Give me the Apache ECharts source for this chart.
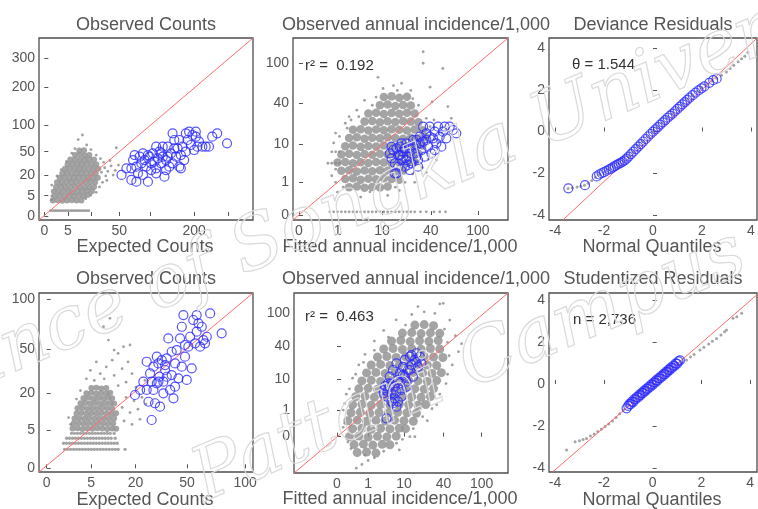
<!DOCTYPE html>
<html><head><meta charset="utf-8">
<script src="https://cdn.jsdelivr.net/npm/echarts@6/dist/echarts.min.js"></script>
<style>html,body{margin:0;padding:0;background:#fff}#c{width:758px;height:509px}</style>
</head><body><div id="c"></div><script>
// ---------- texts ----------
const titles = ['Observed Counts','Observed annual incidence/1,000','Deviance Residuals','Observed Counts','Observed annual incidence/1,000','Studentized Residuals'];
const xNames = ['Expected Counts','Fitted annual incidence/1,000','Normal Quantiles','Expected Counts','Fitted annual incidence/1,000','Normal Quantiles'];
const notes = ['','r² =  0.192','θ = 1.544','','r² =  0.463','n = 2,736'];

// ---------- tick labels (original scale) ----------
const p1XTicks = [0,5,20,50,100,200,300];
const p1XLabels = [0,5,50,200];
const p1YTicks = [0,5,20,50,100,200,300];
const p4Ticks = [0,5,20,50,100];
const incTicks = [0,1,10,40,100];
const qTicks = [-4,-2,0,2,4];

// ---------- panel 1: sqrt(count) scale ----------
const p1GrayDense = [
[0.8,1.7],[1.25,1.72],[1.7,1.68],[2.15,1.7],[2.6,1.73],[3.05,1.69],[3.5,1.71],
[1.0,2.2],[1.45,2.24],[1.9,2.18],[2.35,2.22],[2.8,2.2],[3.25,2.25],[3.7,2.19],[4.1,2.3],
[0.9,2.7],[1.35,2.68],[1.8,2.73],[2.25,2.7],[2.7,2.66],[3.15,2.72],[3.6,2.7],[4.05,2.75],[4.5,2.72],
[1.1,3.2],[1.55,3.23],[2.0,3.18],[2.45,3.2],[2.9,3.25],[3.35,3.2],[3.8,3.17],[4.25,3.22],[4.7,3.2],
[1.2,3.7],[1.65,3.68],[2.1,3.72],[2.55,3.7],[3.0,3.74],[3.45,3.69],[3.9,3.7],[4.35,3.73],[4.8,3.7],
[1.45,4.2],[1.9,4.22],[2.35,4.18],[2.8,4.2],[3.25,4.24],[3.7,4.2],[4.15,4.17],[4.6,4.21],[5.05,4.2],
[1.7,4.7],[2.15,4.72],[2.6,4.68],[3.05,4.7],[3.5,4.73],[3.95,4.7],[4.4,4.67],[4.85,4.7],
[1.95,5.2],[2.4,5.22],[2.85,5.18],[3.3,5.2],[3.75,5.23],[4.2,5.2],[4.65,5.18],[5.1,5.2],
[2.2,5.7],[2.65,5.72],[3.1,5.68],[3.55,5.7],[4.0,5.73],[4.45,5.7],[4.9,5.68],
[2.45,6.2],[2.9,6.22],[3.35,6.18],[3.8,6.2],[4.25,6.23],[4.7,6.2],
[2.9,6.7],[3.35,6.72],[3.8,6.68],[4.25,6.7],
[3.3,7.2],[3.75,7.22]];
const p1GraySparse = [
[0.6,0.58],[0.8,0.58],[1.0,0.58],[1.2,0.58],[1.4,0.58],[1.6,0.58],[1.8,0.58],[2.0,0.58],[2.2,0.58],[2.4,0.58],
[2.6,0.58],[2.8,0.58],[3.0,0.58],[3.2,0.58],[3.4,0.58],[3.6,0.58],[3.8,0.58],[4.0,0.58],[4.2,0.58],
[5.4,4.8],[5.7,5.3],[6.0,4.9],[6.3,5.5],[6.7,5.0],[5.6,5.9],[5.3,6.3],[4.9,6.7],[4.4,7.3],[3.6,8.9],[3.2,8.4],
[6.8,7.5],[5.8,4.4],[6.2,6.1],[2.6,6.9],[2.1,6.0],[1.6,5.1],[1.2,4.4],[0.7,3.4],[5.2,3.2],[5.5,3.7],[4.9,2.6],
[4.4,2.3],[3.9,1.9],[5.9,3.9],[6.5,4.5],[7.0,5.6],[2.9,7.4],[4.0,7.8],[0.7,2.2],[0.7,1.8]];
const p1Blue = [
[7.29,4.51],[7.75,5.24],[8.22,3.96],[8.38,6.15],[8.53,6.70],[8.69,5.42],[8.84,4.69],[9.00,6.52],[9.16,5.79],[9.31,6.89],
[9.47,6.15],[9.62,5.42],[9.78,3.77],[9.93,6.52],[10.09,5.79],[10.25,6.89],[10.40,5.97],[10.56,5.24],[10.71,6.34],[10.87,7.07],
[11.02,5.79],[11.18,6.52],[11.34,4.32],[11.49,6.15],[11.65,7.62],[11.80,5.42],[11.96,6.89],[12.11,5.79],[12.27,8.35],[12.43,6.52],
[12.58,7.44],[12.74,5.42],[12.89,6.70],[13.05,7.62],[13.20,6.15],[13.36,7.07],[13.52,8.35],[13.67,9.27],[13.83,7.80],[13.98,8.90],
[14.14,7.25],[14.30,8.72],[14.45,7.62],[14.61,8.17],[14.92,7.62],[15.23,7.62],[15.54,7.62],[15.85,8.72],[16.32,9.08],[17.25,7.99],
[12.89,5.24],[12.11,9.08],[11.18,7.62],[10.56,7.62],[10.09,5.05],[9.31,4.51],[8.69,3.77],[8.22,5.24],[11.49,5.05],[12.27,7.44],
[10.56,4.69],[11.02,6.89],[9.78,6.70],[11.65,6.52],[12.74,8.35],[13.36,9.08],[14.30,9.27]];
const p1Ref = [[-0.5,-0.44],[19.7,19.56]];

// ---------- panel 2: cube-root incidence scale ----------
const p2GrayDense = [
[1.3,0.85],[1.5,0.87],[1.7,0.83],[1.9,0.86],[2.1,0.84],[2.3,0.87],
[1.2,1.1],[1.4,1.12],[1.6,1.08],[1.8,1.11],[2.0,1.09],[2.2,1.12],[2.4,1.1],[2.6,1.08],
[1.1,1.35],[1.3,1.37],[1.5,1.33],[1.7,1.36],[1.9,1.34],[2.1,1.37],[2.3,1.35],[2.5,1.33],[2.7,1.36],
[1.0,1.6],[1.2,1.62],[1.4,1.58],[1.6,1.61],[1.8,1.59],[2.0,1.62],[2.2,1.6],[2.4,1.58],[2.6,1.61],[2.8,1.59],[3.0,1.62],
[1.1,1.85],[1.3,1.87],[1.5,1.83],[1.7,1.86],[1.9,1.84],[2.1,1.87],[2.3,1.85],[2.5,1.83],[2.7,1.86],[2.9,1.84],[3.1,1.87],
[1.2,2.1],[1.4,2.12],[1.6,2.08],[1.8,2.11],[2.0,2.09],[2.2,2.12],[2.4,2.1],[2.6,2.08],[2.8,2.11],[3.0,2.09],[3.2,2.12],
[1.3,2.35],[1.5,2.37],[1.7,2.33],[1.9,2.36],[2.1,2.34],[2.3,2.37],[2.5,2.35],[2.7,2.33],[2.9,2.36],[3.1,2.34],[3.3,2.37],
[1.4,2.6],[1.6,2.62],[1.8,2.58],[2.0,2.61],[2.2,2.59],[2.4,2.62],[2.6,2.6],[2.8,2.58],[3.0,2.61],[3.2,2.59],
[1.7,2.85],[1.9,2.87],[2.1,2.83],[2.3,2.86],[2.5,2.84],[2.7,2.87],[2.9,2.85],[3.1,2.83],
[1.8,3.1],[2.0,3.12],[2.2,3.08],[2.4,3.11],[2.6,3.09],[2.8,3.12],[3.0,3.1],
[2.1,3.35],[2.3,3.37],[2.5,3.33],[2.7,3.36],[2.9,3.34],
[2.2,3.6],[2.4,3.62],[2.6,3.58],[2.8,3.61]];
const p2GraySparse = [
[0.8,0.1],[0.9,0.1],[1.0,0.1],[1.1,0.1],[1.2,0.1],[1.3,0.1],[1.4,0.1],[1.5,0.1],[1.6,0.1],[1.7,0.1],[1.8,0.1],[1.9,0.1],
[2.0,0.1],[2.1,0.1],[2.2,0.1],[2.3,0.1],[2.4,0.1],[2.5,0.1],[2.6,0.1],[2.7,0.1],[2.8,0.1],[2.9,0.1],[3.0,0.1],[3.15,0.1],
[3.3,0.1],[3.5,0.1],[3.65,0.1],[3.8,0.1],
[0.75,1.58],[0.85,1.58],[0.95,1.58],[1.05,1.58],[0.85,1.93],[0.95,1.93],[1.05,1.93],
[3.22,4.98],[3.73,4.47],[3.22,4.63],[2.66,4.02],[2.18,3.86],[3.86,3.31],[3.56,1.68],[1.84,0.71],[2.9,3.8],
[3.4,3.9],[1.5,3.2],[1.2,2.8],[0.9,2.2],[0.85,1.2],[1.0,0.7],[2.6,0.75],[3.0,1.0],[3.5,2.9],[3.7,2.5],
[2.05,4.2],[1.7,3.5],[2.45,3.95],[3.45,3.45],[3.95,2.95],[1.6,0.55],[2.3,0.6],[0.95,2.5],[1.3,3.0],[3.3,1.3],[3.6,2.2],
[0.95,1.0],[1.05,2.4],[1.25,2.65],[1.55,3.0],[1.9,3.35],[2.0,3.6],[3.1,3.35],[3.3,2.95],[3.4,2.7],[3.35,1.7],
[3.2,1.45],[2.95,1.25],[2.75,1.0],[2.5,0.85],[1.15,0.85],[0.95,1.4],[3.5,2.3],[2.95,3.55],[2.55,3.8],[1.35,2.9]];
const p2Blue = [
[2.357,1.882],[2.400,1.730],[2.443,1.984],[2.486,1.577],[2.529,1.272],[2.572,1.831],[2.615,2.085],[2.658,1.679],[2.701,1.933],[2.744,1.476],
[2.787,2.187],[2.830,1.781],[2.873,2.035],[2.916,1.577],[2.959,2.289],[3.003,1.882],[3.046,2.136],[3.089,1.679],[3.132,2.390],[3.175,1.984],
[3.218,2.238],[3.261,1.781],[3.304,2.492],[3.347,2.085],[3.390,2.695],[3.433,1.882],[3.476,2.340],[3.519,2.543],[3.562,2.187],[3.605,2.695],
[3.648,2.390],[3.692,2.085],[3.735,2.543],[3.821,2.340],[3.907,2.695],[3.993,2.594],[4.079,2.492],[2.486,1.272],[2.572,1.476],[2.701,1.781],
[2.787,1.679],[2.873,1.882],[2.959,2.085],[3.046,1.781],[3.132,2.187],[3.218,2.695],[3.304,2.289],[2.615,1.831],[2.744,2.035],[2.830,1.527],
[2.658,2.187],[2.529,2.035],[2.400,2.085],[3.046,2.289],[3.390,2.390],[3.519,1.984],[3.778,2.695],[3.089,1.476],[2.873,1.374]];
const p2Ref = [[-0.155,-0.15],[5.42,5.40]];

// ---------- panel 3: deviance residual QQ ----------
const p3Gray = [
[-3.47,-2.73],[-3.3,-2.7],[-3.1,-2.66],[-2.95,-2.62],[-2.8,-2.57],[-2.65,-2.48],[-2.5,-2.35],[-2.35,-2.2],[-2.2,-2.06],[-2.0,-1.94],
[-1.8,-1.82],[-1.6,-1.69],[-1.4,-1.55],[-1.2,-1.41],[-1.0,-1.2],[-0.8,-0.96],[-0.6,-0.7],[-0.4,-0.48],[-0.2,-0.24],[0,-0.02],
[0.2,0.2],[0.4,0.44],[0.6,0.66],[0.8,0.86],[1.0,1.08],[1.2,1.3],[1.4,1.52],[1.6,1.72],[1.8,1.93],[2.0,2.1],
[2.2,2.26],[2.4,2.42],[2.6,2.55],[2.8,2.7],[3.0,2.85],[3.15,3.02],[3.3,3.18],[3.48,3.34],[3.62,3.48],[3.75,3.61],[3.88,3.78]];
const p3Blue = [
[-3.46,-2.72],[-2.78,-2.57],[-2.3,-2.15],[-2.2,-2.06],[-2.1,-2.0],[-2.0,-1.95],[-1.9,-1.88],[-1.8,-1.82],[-1.72,-1.78],[-1.64,-1.72],
[-1.56,-1.66],[-1.48,-1.6],[-1.4,-1.55],[-1.32,-1.5],[-1.24,-1.44],[-1.16,-1.38],[-1.08,-1.3],[-1.0,-1.2],[-0.9,-1.08],[-0.8,-0.96],
[-0.7,-0.84],[-0.6,-0.72],[-0.5,-0.6],[-0.4,-0.48],[-0.3,-0.36],[-0.2,-0.24],[-0.1,-0.12],[0.0,-0.01],[0.1,0.1],[0.2,0.21],
[0.3,0.33],[0.4,0.44],[0.5,0.55],[0.6,0.66],[0.7,0.76],[0.8,0.86],[0.9,0.97],[1.0,1.08],[1.1,1.19],[1.2,1.3],
[1.3,1.41],[1.4,1.52],[1.5,1.62],[1.62,1.74],[1.74,1.86],[1.86,1.97],[1.98,2.07],[2.1,2.16],[2.3,2.33],[2.46,2.46],[2.6,2.53]];
const p3Ref = [[-3.68,-4.24],[4.25,4.47]];

// ---------- panel 4: sqrt(count) scale ----------
const p4GrayRows = [
[0.9,1.12],[1.05,1.12],[1.2,1.12],[1.35,1.12],[1.5,1.12],[1.65,1.12],[1.8,1.12],[1.95,1.12],[2.1,1.12],[2.25,1.12],
[2.4,1.12],[2.55,1.12],[2.7,1.12],[2.85,1.12],[3.0,1.12],[3.15,1.12],[3.3,1.12],[3.45,1.12],[3.6,1.12],[3.95,1.12],
[0.85,1.48],[1.0,1.48],[1.15,1.48],[1.3,1.48],[1.45,1.48],[1.6,1.48],[1.75,1.48],[1.9,1.48],[2.05,1.48],[2.2,1.48],
[2.35,1.48],[2.5,1.48],[2.65,1.48],[2.8,1.48],[2.95,1.48],[3.1,1.48],[3.25,1.48],[3.4,1.48],[3.55,1.48],
[1.0,1.78],[1.15,1.78],[1.3,1.78],[1.45,1.78],[1.6,1.78],[1.75,1.78],[1.9,1.78],[2.05,1.78],[2.2,1.78],[2.35,1.78],
[2.5,1.78],[2.65,1.78],[2.8,1.78],[2.95,1.78],[3.1,1.78],[3.25,1.78],[3.45,1.78],
[1.25,2.07],[1.4,2.07],[1.55,2.07],[1.7,2.07],[1.85,2.07],[2.0,2.07],[2.15,2.07],[2.3,2.07],[2.45,2.07],[2.6,2.07],
[2.75,2.07],[2.9,2.07],[3.05,2.07],[3.2,2.07],[3.4,2.07]];
const p4GrayDense = [
[1.3,2.35],[1.55,2.37],[1.8,2.33],[2.05,2.36],[2.3,2.34],[2.55,2.37],[2.8,2.35],[3.05,2.33],[3.3,2.36],[3.5,2.34],
[1.35,2.65],[1.6,2.67],[1.85,2.63],[2.1,2.66],[2.35,2.64],[2.6,2.67],[2.85,2.65],[3.1,2.63],[3.35,2.66],
[1.4,2.95],[1.65,2.97],[1.9,2.93],[2.15,2.96],[2.4,2.94],[2.65,2.97],[2.9,2.95],[3.15,2.93],[3.4,2.96],
[1.5,3.25],[1.75,3.27],[2.0,3.23],[2.25,3.26],[2.5,3.24],[2.75,3.27],[3.0,3.25],[3.25,3.23],[3.5,3.26],
[1.55,3.55],[1.8,3.57],[2.05,3.53],[2.3,3.56],[2.55,3.54],[2.8,3.57],[3.05,3.55],[3.3,3.53],
[1.7,3.85],[1.95,3.87],[2.2,3.83],[2.45,3.86],[2.7,3.84],[2.95,3.87],[3.2,3.85],[3.4,3.83],
[1.85,4.15],[2.1,4.17],[2.35,4.13],[2.6,4.16],[2.85,4.14],[3.1,4.17],[3.3,4.15],
[2.0,4.45],[2.25,4.47],[2.5,4.43],[2.75,4.46],[3.0,4.44],[3.2,4.47],
[2.25,4.75],[2.5,4.77],[2.75,4.73],[3.0,4.76]];
const p4GraySparse = [
[3.19,8.88],[2.86,8.38],[3.11,7.59],[3.87,7.2],[4.2,7.3],[2.4,5.2],[2.7,5.6],[3.0,6.0],[3.3,6.4],[3.6,6.8],
[2.9,5.3],[3.4,5.5],[3.8,5.9],[4.1,6.3],[3.6,4.9],[4.0,5.1],[4.3,5.6],[4.5,4.8],[4.0,4.2],[4.4,4.0],
[3.8,3.6],[4.2,3.3],[4.6,3.5],[3.9,2.8],[4.3,2.6],[4.7,2.9],[2.2,5.8],[2.5,6.3],[2.0,5.3],[1.7,4.6],
[1.5,4.1],[3.4,7.0],[4.8,4.2],[5.0,3.8],[4.95,5.2],[1.2,2.6],[1.1,3.0]];
const p4Blue = [
[4.45,4.34],[4.71,4.64],[4.87,5.13],[5.04,6.31],[5.13,3.94],[5.21,5.62],[5.29,2.86],[5.38,6.02],[5.46,3.85],[5.55,5.03],
[5.63,6.21],[5.68,5.42],[5.71,3.65],[5.80,6.41],[5.88,5.13],[5.97,5.82],[6.05,6.51],[6.13,7.69],[6.22,4.64],[6.30,5.52],
[6.39,4.14],[6.47,6.21],[6.55,7.00],[6.64,5.33],[6.72,7.69],[6.81,8.38],[6.89,9.07],[6.97,6.61],[7.06,5.23],[7.14,7.20],
[7.23,7.79],[7.31,5.92],[7.39,8.78],[7.48,7.40],[7.56,9.07],[7.65,8.58],[7.73,7.20],[7.82,8.38],[7.90,7.59],[7.98,7.40],
[8.07,7.79],[8.24,9.17],[8.82,7.99],[5.38,4.64],[5.55,6.61],[5.88,4.44],[6.05,5.42],[6.30,6.90],[6.47,4.83],[6.81,6.02],
[6.97,7.30],[7.56,8.09],[5.63,5.13],[5.97,6.11],[5.29,5.13],[5.04,4.64]];
const p4Ref = [[-0.39,-0.22],[10.4,10.38]];

// ---------- panel 5: cube-root incidence scale ----------
const p5GrayDense = [
[0.65,-0.6],[0.95,-0.58],[1.25,-0.62],
[0.55,-0.3],[0.85,-0.28],[1.15,-0.32],[1.45,-0.29],[1.7,-0.31],
[0.4,0.0],[0.7,0.02],[1.0,-0.02],[1.3,0.01],[1.6,-0.01],[1.9,0.02],
[0.5,0.3],[0.8,0.32],[1.1,0.28],[1.4,0.31],[1.7,0.29],[2.0,0.32],[2.2,0.3],
[0.35,0.6],[0.65,0.62],[0.95,0.58],[1.25,0.61],[1.55,0.59],[1.85,0.62],[2.15,0.6],[2.45,0.58],
[0.45,0.9],[0.75,0.92],[1.05,0.88],[1.35,0.91],[1.65,0.89],[1.95,0.92],[2.25,0.9],[2.55,0.88],
[0.5,1.2],[0.8,1.22],[1.1,1.18],[1.4,1.21],[1.7,1.19],[2.0,1.22],[2.3,1.2],[2.6,1.18],[2.85,1.21],
[0.6,1.5],[0.9,1.52],[1.2,1.48],[1.5,1.51],[1.8,1.49],[2.1,1.52],[2.4,1.5],[2.7,1.48],[3.0,1.51],
[0.7,1.8],[1.0,1.82],[1.3,1.78],[1.6,1.81],[1.9,1.79],[2.2,1.82],[2.5,1.8],[2.8,1.78],[3.1,1.81],
[0.8,2.1],[1.1,2.12],[1.4,2.08],[1.7,2.11],[2.0,2.09],[2.3,2.12],[2.6,2.1],[2.9,2.08],[3.2,2.11],
[0.95,2.4],[1.25,2.42],[1.55,2.38],[1.85,2.41],[2.15,2.39],[2.45,2.42],[2.75,2.4],[3.05,2.38],[3.35,2.41],
[1.1,2.7],[1.4,2.72],[1.7,2.68],[2.0,2.71],[2.3,2.69],[2.6,2.72],[2.9,2.7],[3.2,2.68],
[1.3,3.0],[1.6,3.02],[1.9,2.98],[2.2,3.01],[2.5,2.99],[2.8,3.02],[3.1,3.0],[3.4,2.98],
[1.5,3.3],[1.8,3.32],[2.1,3.28],[2.4,3.31],[2.7,3.29],[3.0,3.32],[3.3,3.3],
[1.75,3.6],[2.05,3.62],[2.35,3.58],[2.65,3.61],[2.95,3.59],[3.25,3.62],
[2.1,3.9],[2.4,3.92],[2.7,3.88],[3.0,3.91],[3.3,3.89],
[2.5,4.2],[2.8,4.22],[3.1,4.18]];
const p5GraySparse = [
[3.41,5.02],[3.14,4.64],[3.62,4.39],[3.8,3.8],[3.9,3.2],[3.7,2.7],[3.5,2.0],[3.2,1.2],[2.9,0.6],[2.5,0.0],
[2.0,-0.5],[1.0,-0.9],[0.62,-1.19],[0.8,-1.05],[0.9,-0.7],[0.25,0.5],[0.2,1.0],[0.3,1.6],[0.5,2.2],[0.7,2.7],
[0.9,3.1],[1.2,3.6],[1.5,4.0],[1.9,4.4],[2.4,4.6],[2.8,4.7],[1.91,-0.25],[2.34,0.0],[0.35,-0.2],[4.0,3.5],[3.3,5.0],[2.6,4.9],
[0.45,-0.45],[1.5,-0.55],[2.1,-0.1],[2.45,0.3],[2.75,0.75],[3.05,1.05],[3.3,1.6],[3.55,2.35],[3.6,3.05],[3.55,3.55],
[3.45,4.05],[2.2,4.2],[1.65,3.75],[1.2,3.25],[0.85,2.8],[0.6,2.35],[0.4,1.8],[0.25,1.25],[0.2,0.35],[1.2,-0.8]];
const p5Blue = [
[1.53,1.76],[1.59,1.51],[1.64,2.01],[1.69,2.26],[1.75,1.63],[1.80,2.51],[1.85,1.88],[1.91,2.76],[1.96,2.13],[2.02,2.38],
[2.07,1.76],[2.12,2.63],[2.18,2.89],[2.23,2.07],[2.28,2.51],[2.34,3.01],[2.39,2.70],[2.44,2.26],[2.50,2.89],[2.55,3.14],
[2.60,2.63],[2.66,3.01],[2.71,2.76],[1.80,1.25],[1.91,1.13],[1.85,1.44],[2.23,1.88],[2.07,1.51],[1.75,1.32],[1.59,0.69],
[1.96,1.32],[2.18,2.26],[2.34,2.51],[1.69,1.88],[2.02,2.01],[2.55,2.82],[2.39,3.07],[2.12,2.32],[1.91,1.69],
[1.50,1.63],[1.55,1.90],[1.62,1.69],[1.72,2.00]];
const p5Ref = [[-1.38,-1.37],[5.49,5.41]];

// ---------- panel 6: studentized residual QQ ----------
const p6Gray = [
[-3.53,-3.14],[-3.18,-2.75],[-3.0,-2.7],[-2.85,-2.64],[-2.71,-2.59],[-2.55,-2.48],[-2.4,-2.38],[-2.25,-2.26],[-2.1,-2.14],[-1.95,-2.02],
[-1.8,-1.9],[-1.65,-1.76],[-1.5,-1.6],[-1.35,-1.42],[-1.2,-1.24],[-1.0,-1.02],[-0.8,-0.8],[-0.6,-0.6],[-0.4,-0.39],[-0.2,-0.19],
[0,0],[0.2,0.2],[0.4,0.4],[0.6,0.6],[0.8,0.8],[1.0,0.98],[1.2,1.02],[1.39,1.14],[1.55,1.28],[1.7,1.4],
[1.94,1.62],[2.1,1.75],[2.3,1.9],[2.45,2.03],[2.62,2.17],[2.8,2.33],[2.95,2.48],[3.03,2.57],[3.3,3.13],[3.45,3.2],[3.65,3.37]];
const p6Blue = [
[-1.07,-1.16],[-1.0,-1.04],[-0.95,-0.95],[-0.9,-0.96],[-0.85,-0.84],[-0.8,-0.86],[-0.75,-0.72],[-0.7,-0.74],[-0.65,-0.62],[-0.6,-0.64],
[-0.55,-0.52],[-0.5,-0.54],[-0.45,-0.42],[-0.4,-0.44],[-0.35,-0.32],[-0.3,-0.34],[-0.25,-0.22],[-0.2,-0.24],[-0.15,-0.12],[-0.1,-0.14],
[-0.05,-0.02],[0,-0.04],[0.05,0.08],[0.1,0.06],[0.15,0.18],[0.2,0.16],[0.25,0.28],[0.3,0.26],[0.35,0.38],[0.4,0.36],
[0.45,0.48],[0.5,0.46],[0.55,0.58],[0.6,0.56],[0.65,0.68],[0.7,0.66],[0.75,0.78],[0.8,0.76],[0.85,0.88],[0.9,0.86],
[0.95,0.98],[1.0,0.96],[1.06,1.08],[1.12,1.12]];
const p6Ref = [[-4.1,-4.19],[4.28,4.25]];

// ---------- font detection ----------
function hasFont(name){
  const c=document.createElement('canvas').getContext('2d');
  c.font='40px monospace'; const a=c.measureText('Observed Counts 0123').width;
  c.font='40px "'+name+'", monospace'; const b=c.measureText('Observed Counts 0123').width;
  return Math.abs(a-b)>0.5;
}
const NARROW = hasFont('Liberation Sans Narrow');
const FONT = NARROW ? '"Liberation Sans Narrow", "Liberation Sans", sans-serif' : '"Liberation Sans", Arial, sans-serif';
const K = NARROW ? 1 : 0.82;
const TITLE_SIZE = Math.round(22*K), TICK_SIZE = Math.round(17*K), NOTE_SIZE = Math.round(18*K);
const TXT = '#555';

const sq = v => Math.sqrt(v), cb = v => Math.cbrt(v), id = v => v;

// panels (layout + styling)
const panels = [
 {g:{left:39,top:38,width:214,height:182}, x:[-0.5,19.7], y:[-0.44,19.56], xt:p1XTicks, xl:p1XLabels, yt:p1YTicks, yl:p1YTicks, f:sq,
  dense:p1GrayDense, ds:6, sparse:p1GraySparse, ref:p1Ref, blue:p1Blue},
 {g:{left:293,top:38,width:215,height:182}, x:[-0.155,5.42], y:[-0.15,5.40], xt:incTicks, xl:incTicks, yt:incTicks, yl:incTicks, f:cb,
  dense:p2GrayDense, ds:8.5, sparse:p2GraySparse, ref:p2Ref, blue:p2Blue},
 {g:{left:549,top:38,width:208,height:182}, x:[-4.25,4.25], y:[-4.24,4.48], xt:qTicks, xl:qTicks, yt:qTicks, yl:qTicks, f:id,
  dense:p3Gray, ds:3, sparse:[], ref:p3Ref, blue:p3Blue},
 {g:{left:39,top:293,width:214,height:179}, x:[-0.39,10.4], y:[-0.22,10.38], xt:p4Ticks, xl:p4Ticks, yt:p4Ticks, yl:p4Ticks, f:sq,
  dense:p4GrayDense, ds:6, sparse:p4GraySparse, rows:p4GrayRows, ref:p4Ref, blue:p4Blue},
 {g:{left:294,top:293,width:214,height:180}, x:[-1.38,5.49], y:[-1.37,5.41], xt:incTicks, xl:incTicks, yt:incTicks, yl:incTicks, f:cb,
  dense:p5GrayDense, ds:9, sparse:p5GraySparse, ref:p5Ref, blue:p5Blue},
 {g:{left:549,top:293,width:208,height:179}, x:[-4.25,4.28], y:[-4.19,4.33], xt:qTicks, xl:qTicks, yt:qTicks, yl:qTicks, f:id,
  dense:p6Gray, ds:3, sparse:[], ref:p6Ref, blue:p6Blue}
];

function axis(i, lim, ticks, labels, f){
  const tv = ticks.map(f), lv = labels.map(f);
  return {
    type:'value', gridIndex:i, min:lim[0], max:lim[1],
    axisLine:{show:false}, splitLine:{show:false},
    axisTick:{show:true, inside:true, length:4, customValues:tv, lineStyle:{color:'#555',width:1}},
    axisLabel:{customValues:lv, color:TXT, fontFamily:FONT, fontSize:TICK_SIZE, margin:4, hideOverlap:false,
      formatter:(v)=>{const k=lv.findIndex(t=>Math.abs(t-v)<1e-6); return k>=0? String(labels[k]) : '';}}
  };
}

const grid=[], xAxis=[], yAxis=[], series=[];
panels.forEach((p,i)=>{
  grid.push(Object.assign({show:true, borderColor:'#4d4d4d', borderWidth:1.3, backgroundColor:'#fff'}, p.g));
  xAxis.push(axis(i,p.x,p.xt,p.xl,p.f));
  yAxis.push(axis(i,p.y,p.yt,p.yl,p.f));
  const base={xAxisIndex:i,yAxisIndex:i,silent:true,animation:false};
  series.push(Object.assign({type:'scatter',data:p.dense,symbolSize:p.ds,itemStyle:{color:'#949494',opacity:0.85},z:1},base));
  if(p.rows) series.push(Object.assign({type:'scatter',data:p.rows,symbolSize:3.4,itemStyle:{color:'#8f8f8f'},z:1},base));
  if(p.sparse.length) series.push(Object.assign({type:'scatter',data:p.sparse,symbolSize:2.8,itemStyle:{color:'#8a8a8a'},z:1},base));
  series.push(Object.assign({type:'line',data:p.ref,symbol:'none',lineStyle:{color:'#ff6b6b',width:1},z:2},base));
  series.push(Object.assign({type:'scatter',data:p.blue,symbol:'circle',symbolSize:9,
    itemStyle:{color:'rgba(0,0,0,0)',borderColor:'#2b2bff',borderWidth:1.2},z:3},base));
});

// text layout
const titlePos=[[146,25],[416,25],[653,25],[146,279],[416,279],[653,279]];
const xNamePos=[[145,247],[400,247],[652,247],[145,500],[400,499],[652,500]];
const notePos=[[0,0],[305,66],[572,65],[0,0],[305,317],[573,320]];
const graphic=[];
panels.forEach((p,i)=>{
  graphic.push({type:'text',x:titlePos[i][0],y:titlePos[i][1],z:50,silent:true,
    style:{text:titles[i],font:TITLE_SIZE+'px '+FONT,fill:TXT,align:'center',verticalAlign:'middle'}});
  graphic.push({type:'text',x:xNamePos[i][0],y:xNamePos[i][1],z:50,silent:true,
    style:{text:xNames[i],font:TITLE_SIZE+'px '+FONT,fill:TXT,align:'center',verticalAlign:'middle'}});
  if(notes[i]) graphic.push({type:'text',x:notePos[i][0],y:notePos[i][1],z:50,silent:true,
    style:{text:notes[i],font:NOTE_SIZE+'px '+FONT,fill:'#333',align:'left',verticalAlign:'middle'}});
});
// watermark
graphic.push({type:'text',x:398,y:188,rotation:23*Math.PI/180,z:60,silent:true,
  style:{text:'Prince of Songkla University',font:'italic 74px "DejaVu Serif"',fill:'rgba(255,255,255,0)',stroke:'#dadada',lineWidth:1.2,align:'center',verticalAlign:'middle'}});
graphic.push({type:'text',x:470,y:368,rotation:23*Math.PI/180,z:60,silent:true,
  style:{text:'Pattani Campus',font:'italic 74px "DejaVu Serif"',fill:'rgba(255,255,255,0)',stroke:'#dadada',lineWidth:1.2,align:'center',verticalAlign:'middle'}});

const chart=echarts.init(document.getElementById('c'),null,{renderer:'canvas'});
chart.setOption({animation:false, backgroundColor:'#fff', grid, xAxis, yAxis, series, graphic});
</script></body></html>
